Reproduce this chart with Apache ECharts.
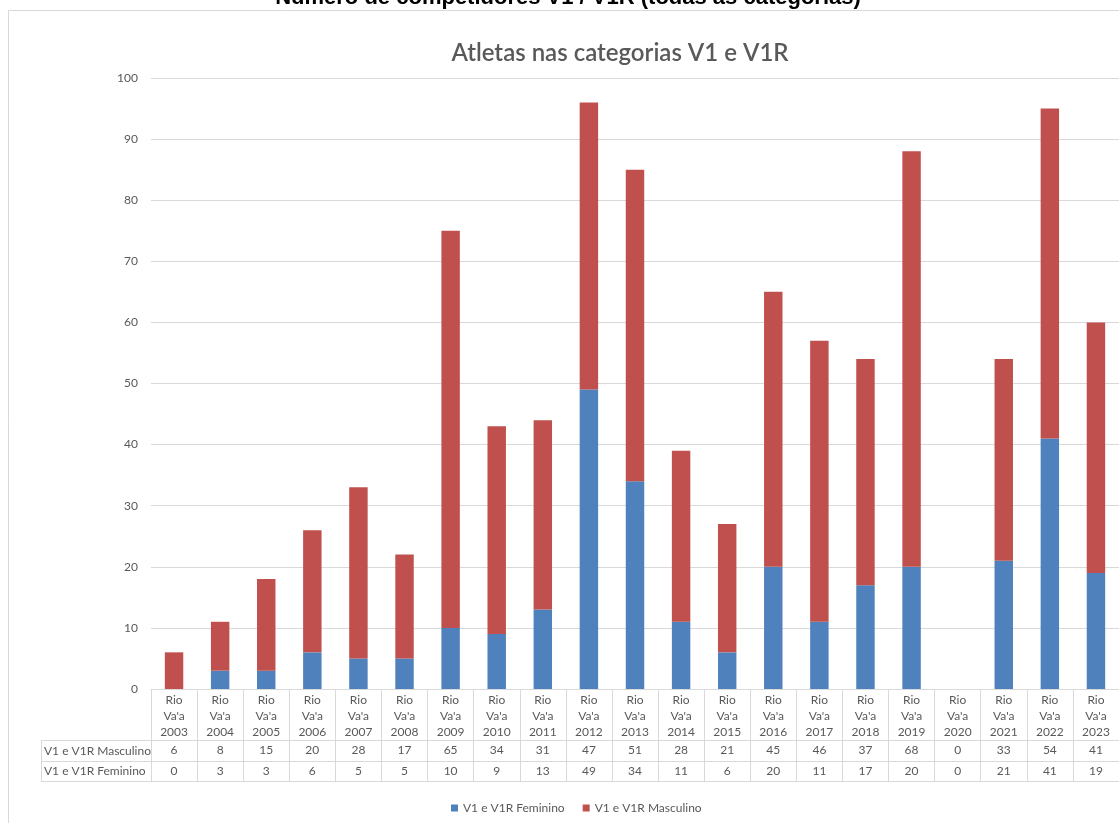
<!DOCTYPE html>
<html>
<head>
<meta charset="utf-8">
<script src="https://cdn.jsdelivr.net/npm/echarts@6/dist/echarts.min.js"></script>
<style>html,body{margin:0;padding:0;background:#fff;}#c{width:1119px;height:823px;}</style>
</head>
<body>
<div id="c"></div>
<script>
const years = ['2003','2004','2005','2006','2007','2008','2009','2010','2011','2012','2013','2014','2015','2016','2017','2018','2019','2020','2021','2022','2023'];
const categories = years.map(y => "Rio\nVa'a\n" + y);
const masculino = [6,8,15,20,28,17,65,34,31,47,51,28,21,45,46,37,68,0,33,54,41];
const feminino  = [0,3,3,6,5,5,10,9,13,49,34,11,6,20,11,17,20,0,21,41,19];
const seriesNames = ['V1 e V1R Feminino', 'V1 e V1R Masculino'];
const yTicks = {min: 0, max: 100, interval: 10};
const pageTitle = 'Número de competidores V1 / V1R (todas as categorias)';
const chartTitle = 'Atletas nas categorias V1 e V1R';

const FONT = 'Lato';
const TXT = '#595959';
const LINE = '#d9d9d9';
const chart = echarts.init(document.getElementById('c'));
const gridTop = 78, gridH = 611, gridLeft = 151, gridW = 974;

const xAxisCommon = {
  type: 'category', position: 'bottom', gridIndex: 0,
  axisTick: {show: false}, splitLine: {show: false},
  axisLine: {show: true, lineStyle: {color: LINE, width: 1}}
};

chart.setOption({
  animation: false,
  textStyle: {fontFamily: FONT},
  graphic: [
    {type: 'rect', shape: {x: 8.5, y: 10.5, width: 1300, height: 1000}, style: {fill: null, stroke: LINE, lineWidth: 1}, z: 0},
    {type: 'text', x: 568, y: 9, style: {text: pageTitle, font: 'bold 22px "Liberation Sans", Arial, sans-serif', fill: '#000', textAlign: 'center', textVerticalAlign: 'bottom'}},
    {type: 'text', x: 620, y: 53, style: {text: chartTitle, font: '600 24px Lato', fill: TXT, textAlign: 'center', textVerticalAlign: 'middle'}},
    {type: 'line', shape: {x1: 41, y1: 740.5, x2: 151, y2: 740.5}, style: {stroke: LINE, lineWidth: 1}},
    {type: 'line', shape: {x1: 41, y1: 761.5, x2: 151, y2: 761.5}, style: {stroke: LINE, lineWidth: 1}},
    {type: 'line', shape: {x1: 41, y1: 781.5, x2: 151, y2: 781.5}, style: {stroke: LINE, lineWidth: 1}},
    {type: 'line', shape: {x1: 41.5, y1: 740, x2: 41.5, y2: 782}, style: {stroke: LINE, lineWidth: 1}},
    {type: 'text', x: 44, y: 751, style: {text: seriesNames[1], font: '12px Lato', fill: TXT, textAlign: 'left', textVerticalAlign: 'middle'}},
    {type: 'text', x: 44, y: 771.5, style: {text: seriesNames[0], font: '12px Lato', fill: TXT, textAlign: 'left', textVerticalAlign: 'middle'}}
  ],
  legend: {
    data: seriesNames, top: 797, left: 446,
    itemWidth: 7, itemHeight: 7, itemGap: 18, icon: 'rect',
    textStyle: {color: TXT, fontSize: 12, fontFamily: FONT}
  },
  grid: {left: gridLeft, top: gridTop, width: gridW, height: gridH, containLabel: false},
  xAxis: [
    Object.assign({}, xAxisCommon, {
      data: categories,
      axisTick: {show: true, length: 92, interval: 0, lineStyle: {color: LINE}},
      axisLabel: {interval: 0, color: TXT, fontSize: 12, lineHeight: 16, margin: 3, fontFamily: FONT}
    }),
    Object.assign({}, xAxisCommon, {
      data: masculino.map(String), offset: 51,
      axisLabel: {interval: 0, color: TXT, fontSize: 12, lineHeight: 21, margin: 0, fontFamily: FONT}
    }),
    Object.assign({}, xAxisCommon, {
      data: feminino.map(String), offset: 72,
      axisLabel: {interval: 0, color: TXT, fontSize: 12, lineHeight: 20, margin: 0, fontFamily: FONT}
    }),
    Object.assign({}, xAxisCommon, {
      data: years, offset: 92, axisLabel: {show: false}
    })
  ],
  yAxis: {
    type: 'value', min: yTicks.min, max: yTicks.max, interval: yTicks.interval,
    axisLine: {show: false}, axisTick: {show: false},
    splitLine: {lineStyle: {color: LINE, width: 1}},
    axisLabel: {color: TXT, fontSize: 12, margin: 13, fontFamily: FONT}
  },
  series: [
    {name: seriesNames[0], type: 'bar', stack: 's', xAxisIndex: 0, data: feminino, barWidth: '40%', itemStyle: {color: '#4F81BD'}},
    {name: seriesNames[1], type: 'bar', stack: 's', xAxisIndex: 0, data: masculino, barWidth: '40%', itemStyle: {color: '#C0504D'}}
  ]
});
</script>
</body>
</html>
